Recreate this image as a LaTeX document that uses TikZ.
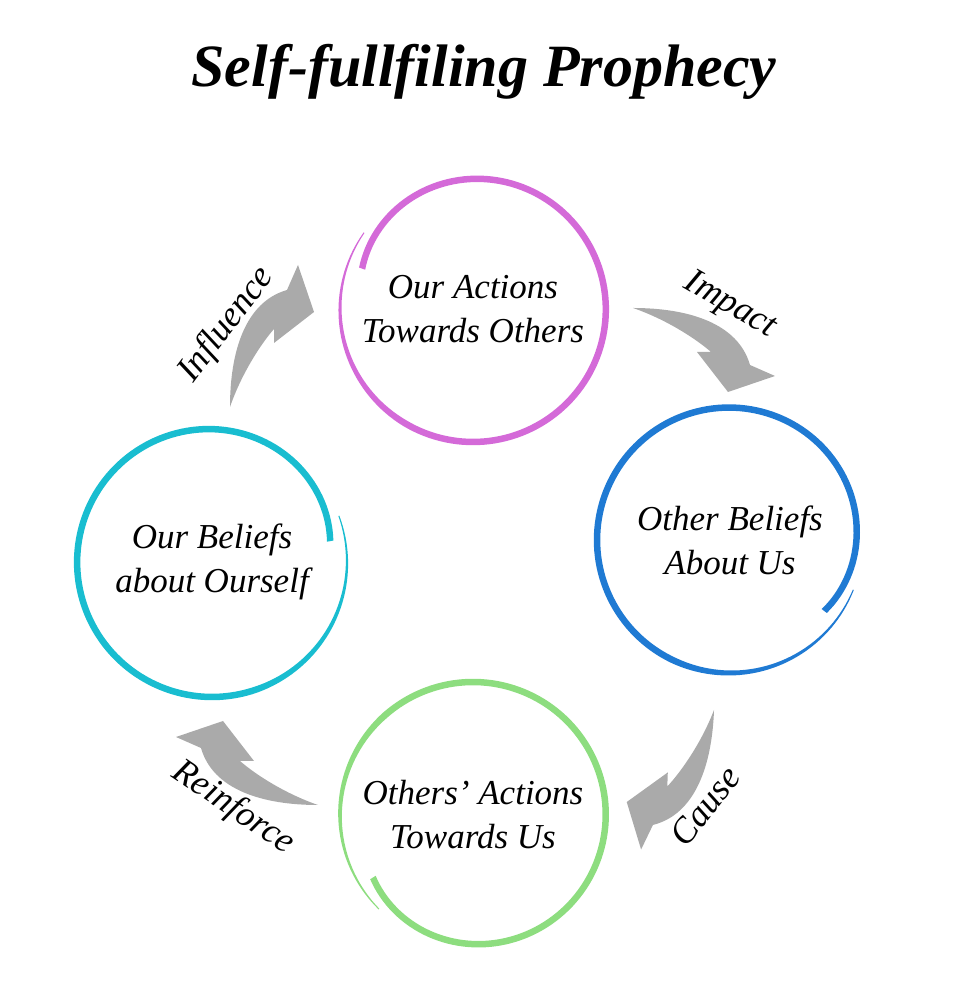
\documentclass[tikz,border=0pt]{standalone}
\usepackage{fontspec}
\setmainfont{Liberation Serif}
\usepackage{tikz}
\usetikzlibrary{positioning, calc}
\definecolor{ringmag}{RGB}{212,106,216}
\definecolor{ringblue}{RGB}{31,122,211}
\definecolor{ringcyan}{RGB}{25,189,208}
\definecolor{ringgreen}{RGB}{141,221,127}
\definecolor{flowgray}{RGB}{170,170,170}
\tikzset{
  heading/.style      = {font=\fontsize{60}{70}\selectfont\bfseries\itshape, inner sep=0pt},
  stage/.style        = {align=center, inner sep=0pt, font=\fontsize{35}{44}\selectfont\itshape},
  flow/.style         = {fill=flowgray},
  flab/.style         = {font=\fontsize{36}{40}\selectfont\itshape, inner sep=0pt},
  bentarrow/.pic      = {
    \fill[flow] (0,0) .. controls (55,0) and (105,-15) .. (117,-57)
      -- (142,-68) -- (95,-84) -- (64,-44) -- (78,-44)
      .. controls (62,-30) and (32,-11) .. (0,0) -- cycle;
  },
}
% brush ring round a node: node, colour, start angle, end angle, radius
\newcommand{\brushring}[5]{%
  \begin{scope}[shift={(#1.center)}, declare function={
      tt(\a) = (\a-(#3))/((#4)-(#3));
      rr(\a) = #5+5-15*tt(\a)^8;
      ww(\a) = 1+5.5*min(1,tt(\a)/0.25);}]
    \fill[#2] plot[domain=#3:#4, samples=160]
        ({(rr(\x)+ww(\x)/2)*cos(\x)}, {(rr(\x)+ww(\x)/2)*sin(\x)})
      -- plot[domain=#4:#3, samples=160]
        ({(rr(\x)-ww(\x)/2)*cos(\x)}, {(rr(\x)-ww(\x)/2)*sin(\x)}) -- cycle;
  \end{scope}}

\begin{document}
\begin{tikzpicture}[x=1pt, y=1pt, on grid]
  \useasboundingbox (0,0) rectangle (956,1000);
  \node[heading] (title) at (484,928) {Self-fullfiling Prophecy};

  % the four stages, clockwise from the top
  \node[stage] (oact) at (473,691) {Our Actions\\Towards Others};
  \node[stage, below right=231pt and 257pt of oact] (obel) {Other Beliefs\\About Us};
  \node[stage, below=506pt of oact] (tact) {Others' Actions\\Towards Us};
  \node[stage, below left=253pt and 261pt of oact] (sbel) {Our Beliefs\\about Ourself};

  \brushring{oact}{ringmag}{145}{520}{128}
  \brushring{obel}{ringblue}{-22}{-397}{128}
  \brushring{tact}{ringgreen}{225}{-148}{128}
  \brushring{sbel}{ringcyan}{20}{-350}{130}

  % tails of the bent arrows
  \coordinate (infl) at ($(sbel)+(18,155)$);
  \coordinate (impa) at ($(oact)+(160,1)$);
  \coordinate (caus) at ($(obel)+(-16,-170)$);
  \coordinate (rein) at ($(tact)+(-155,10)$);

  \pic[rotate=90]  at (infl) {bentarrow};
  \pic             at (impa) {bentarrow};
  \pic[rotate=-92] at (caus) {bentarrow};
  \pic[rotate=180] at (rein) {bentarrow};

  \node[flab, rotate=53]  (linfl) at ($(infl)+(-3,82)$)  {Influence};
  \node[flab, rotate=-30] (limpa) at ($(impa)+(97,2)$)   {Impact};
  \node[flab, rotate=52]  (lcaus) at ($(caus)+(-9,-96)$) {Cause};
  \node[flab, rotate=-34] (lrein) at ($(rein)+(-85,-3)$) {Reinforce};
\end{tikzpicture}
\end{document}
